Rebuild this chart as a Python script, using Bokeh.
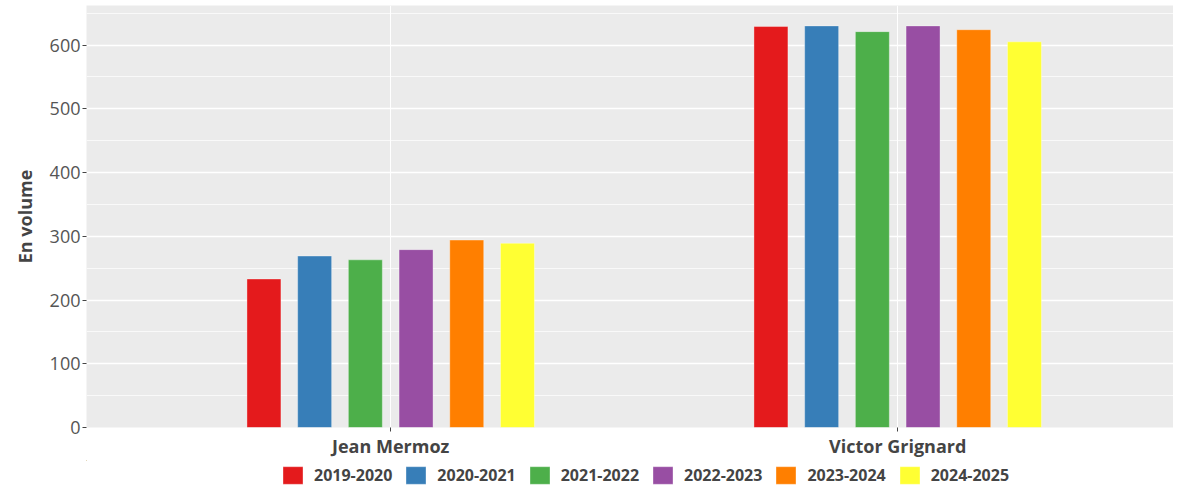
from bokeh.plotting import figure
from bokeh.layouts import column
from bokeh.models import Range1d, FixedTicker, SingleIntervalTicker, Legend, LegendItem, ColumnDataSource
from bokeh.transform import dodge
from bokeh.embed import file_html
from bokeh.resources import INLINE

schools = ["Jean Mermoz", "Victor Grignard"]
years = ["2019-2020", "2020-2021", "2021-2022", "2022-2023", "2023-2024", "2024-2025"]
values_jean_mermoz = [233, 269, 263, 279, 294, 289]
values_victor_grignard = [629, 630, 621, 630, 624, 605]
colors = ["#E41A1C", "#377EB8", "#4DAF4A", "#984EA3", "#FF7F00", "#FFFF33"]

FONT = "Open Sans"
TXT = "#444444"
W = 1173

p = figure(width=W, height=460, output_backend="svg", toolbar_location=None,
           x_range=Range1d(-0.6, 1.544), y_range=Range1d(0, 662),
           min_border_left=86, min_border_top=5, min_border_right=0, min_border_bottom=32)
p.background_fill_color = "#EBEBEB"
p.border_fill_color = "white"
p.outline_line_color = None

sources = []
for i, (yr, col) in enumerate(zip(years, colors)):
    src = ColumnDataSource(dict(x=[0, 1], top=[values_jean_mermoz[i], values_victor_grignard[i]]))
    sources.append(src)
    p.vbar(x=dodge("x", (i - 2.5) * 0.1), top="top", width=0.067, bottom=0, source=src,
           fill_color=col, line_color="white", line_alpha=0.35, line_width=1)

# x axis
p.xaxis.ticker = FixedTicker(ticks=[0, 1])
p.xaxis.major_label_overrides = {0: schools[0], 1: schools[1]}
p.xaxis.axis_line_color = None
p.xaxis.major_tick_line_color = "#444444"
p.xaxis.major_tick_in = 0
p.xaxis.major_tick_out = 4
p.xaxis.minor_tick_line_color = None
p.xaxis.major_label_text_font = FONT
p.xaxis.major_label_text_font_style = "bold"
p.xaxis.major_label_text_font_size = "18px"
p.xaxis.major_label_text_color = TXT
p.xaxis.major_label_standoff = 2

# y axis
p.yaxis.ticker = SingleIntervalTicker(interval=100, num_minor_ticks=2)
p.yaxis.axis_line_color = None
p.yaxis.major_tick_line_color = "#444444"
p.yaxis.major_tick_in = 0
p.yaxis.major_tick_out = 4
p.yaxis.minor_tick_line_color = None
p.yaxis.major_label_text_font = FONT
p.yaxis.major_label_text_font_size = "18px"
p.yaxis.major_label_text_color = "#555555"
p.yaxis.major_label_standoff = 2
p.yaxis.axis_label = "En volume"
p.yaxis.axis_label_text_font = FONT
p.yaxis.axis_label_text_font_style = "bold"
p.yaxis.axis_label_text_font_size = "18px"
p.yaxis.axis_label_text_color = TXT
p.yaxis.axis_label_standoff = 10

# grids
p.xgrid.grid_line_color = "white"
p.xgrid.grid_line_width = 1
p.ygrid.grid_line_color = "white"
p.ygrid.grid_line_width = 1.3
p.ygrid.minor_grid_line_color = "white"
p.ygrid.minor_grid_line_width = 0.7

# legend strip below the plot (its bars lie outside its visible range; only swatches show)
pl = figure(width=W, height=26, output_backend="svg", toolbar_location=None,
            x_axis_type=None, y_axis_type=None, x_range=Range1d(10, 11), y_range=Range1d(-20, -10),
            min_border_left=0, min_border_right=0, min_border_top=0, min_border_bottom=0)
pl.outline_line_color = None
pl.grid.visible = False
items = []
for i, (yr, col) in enumerate(zip(years, colors)):
    r = pl.vbar(x=dodge("x", (i - 2.5) * 0.1), top="top", width=0.067, bottom=0, source=sources[i],
                fill_color=col, line_color="white", line_alpha=0.35)
    items.append(LegendItem(label=yr, renderers=[r]))
legend = Legend(items=items, orientation="horizontal", location=(194, 0),
                glyph_width=25, glyph_height=22, label_standoff=9, spacing=11,
                label_text_font=FONT, label_text_font_style="bold",
                label_text_font_size="16px", label_text_color=TXT,
                border_line_color=None, background_fill_alpha=0,
                padding=2, margin=0)
pl.add_layout(legend, "center")

layout = column(p, pl, spacing=0)
open("out.html", "w").write(file_html(layout, INLINE))
